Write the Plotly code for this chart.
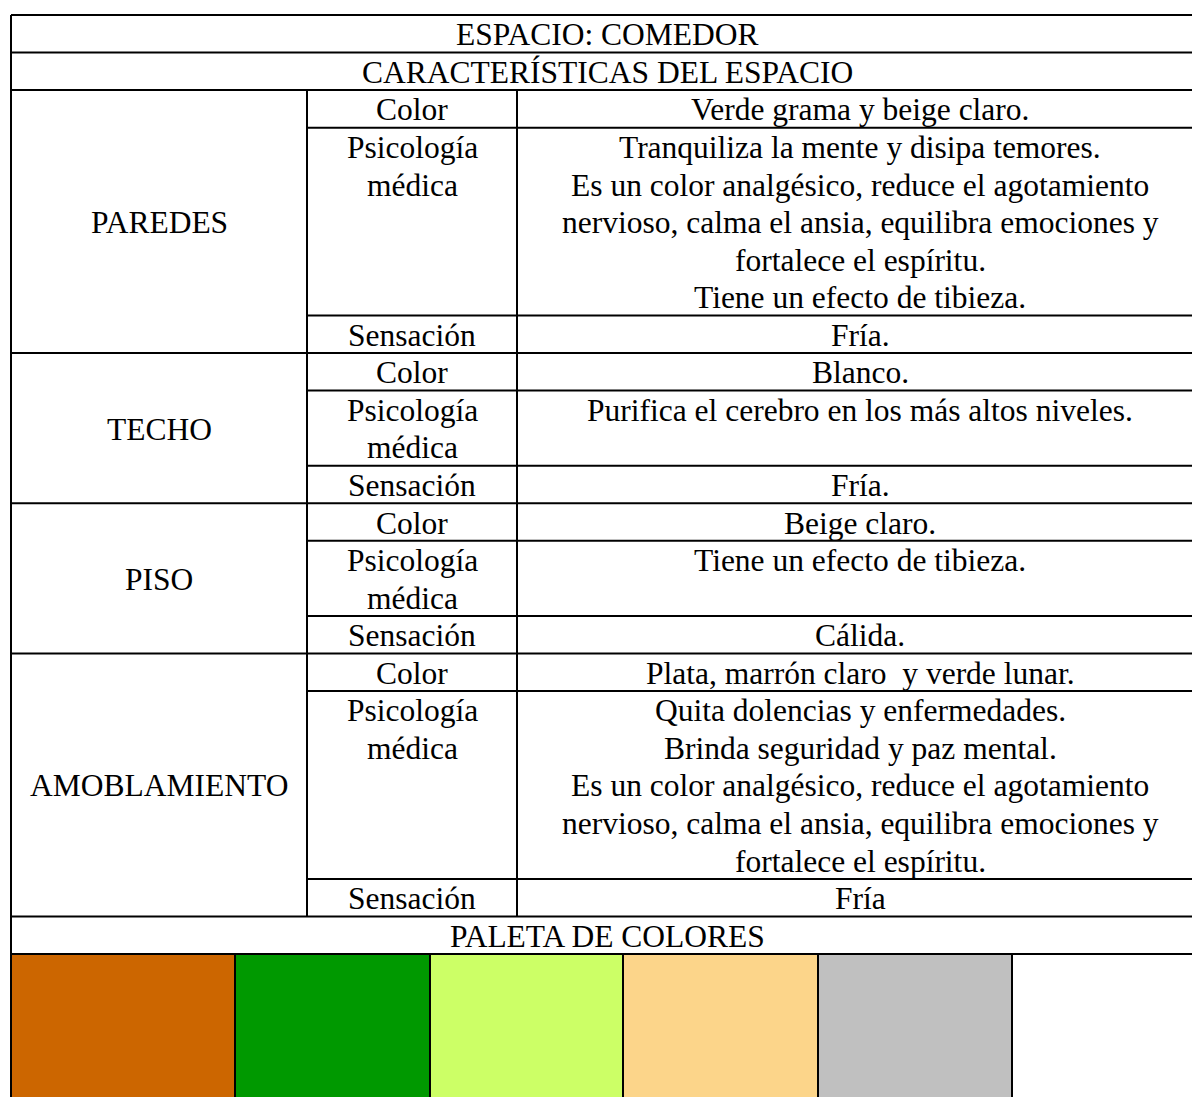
import plotly.graph_objects as go

# ---------------- data ----------------
title_text = "ESPACIO: COMEDOR"
subtitle_text = "CARACTERÍSTICAS DEL ESPACIO"
sections = ["PAREDES", "TECHO", "PISO", "AMOBLAMIENTO"]
attr_color = ["Color"]
attr_psych = ["Psicología", "médica"]
attr_sens = ["Sensación"]
color_values = [
    "Verde grama y beige claro.",
    "Blanco.",
    "Beige claro.",
    "Plata, marrón claro \u00a0y verde lunar.",
]
psych_values = [
    ["Tranquiliza la mente y disipa temores.",
     "Es un color analgésico, reduce el agotamiento",
     "nervioso, calma el ansia, equilibra emociones y",
     "fortalece el espíritu.",
     "Tiene un efecto de tibieza."],
    ["Purifica el cerebro en los más altos niveles."],
    ["Tiene un efecto de tibieza."],
    ["Quita dolencias y enfermedades.",
     "Brinda seguridad y paz mental.",
     "Es un color analgésico, reduce el agotamiento",
     "nervioso, calma el ansia, equilibra emociones y",
     "fortalece el espíritu."],
]
sensation_values = ["Fría.", "Fría.", "Cálida.", "Fría"]
palette_title = "PALETA DE COLORES"
palette_colors = ["#CC6600", "#009900", "#CCFF66", "#FCD58A", "#C0C0C0", "#FFFFFF"]

# ---------------- layout constants ----------------
PAGE_W, PAGE_H = 1192, 1097
TOP = 15
LINE = 37.56
X0, X1, X2, XR = 11, 307, 517, 1203
PAL_X = [11, 235, 430, 623, 818, 1012, 1203]
FONT = dict(family="Liberation Serif, Times New Roman, serif", size=31.5, color="black")
LW = 2
TEXT_DY = 1.0

shapes = []
annotations = []


def hline(y, xa, xb):
    shapes.append(dict(type="line", xref="x", yref="y", x0=xa, x1=xb, y0=y, y1=y,
                       line=dict(color="black", width=LW)))


def vline(x, ya, yb):
    shapes.append(dict(type="line", xref="x", yref="y", x0=x, x1=x, y0=ya, y1=yb,
                       line=dict(color="black", width=LW)))


def text(x, y, s):
    annotations.append(dict(x=x, y=y + TEXT_DY, xref="x", yref="y", text=s, showarrow=False,
                            xanchor="center", yanchor="middle", font=FONT))


def lines_block(x, ytop, items):
    for i, s in enumerate(items):
        text(x, ytop + (i + 0.5) * LINE, s)


y = TOP
hline(y, X0, XR)
lines_block((X0 + XR) / 2, y, [title_text])
y += LINE
hline(y, X0, XR)
lines_block((X0 + XR) / 2, y, [subtitle_text])
y += LINE
hline(y, X0, XR)
body_top = y

c1 = (X0 + X1) / 2
c2 = (X1 + X2) / 2
c3 = (X2 + XR) / 2
for k, sec in enumerate(sections):
    sec_top = y
    lines_block(c2, y, attr_color)
    lines_block(c3, y, [color_values[k]])
    y += LINE
    hline(y, X1, XR)
    n = max(len(psych_values[k]), len(attr_psych))
    lines_block(c2, y, attr_psych)
    lines_block(c3, y, psych_values[k])
    y += n * LINE
    hline(y, X1, XR)
    lines_block(c2, y, attr_sens)
    lines_block(c3, y, [sensation_values[k]])
    y += LINE
    hline(y, X0, XR)
    text(c1, (sec_top + y) / 2, sec)

body_bottom = y
vline(X1, body_top, body_bottom)
vline(X2, body_top, body_bottom)

lines_block((X0 + XR) / 2, y, [palette_title])
y += LINE
hline(y, X0, XR)
pal_top = y

for i, col in enumerate(palette_colors):
    shapes.append(dict(type="rect", xref="x", yref="y", x0=PAL_X[i], x1=PAL_X[i + 1],
                       y0=pal_top, y1=PAGE_H + 10, fillcolor=col, line=dict(width=0), layer="below"))
for xv in PAL_X[1:-1]:
    vline(xv, pal_top, PAGE_H + 10)

vline(X0, TOP, PAGE_H + 10)
vline(XR, TOP, PAGE_H + 10)

fig = go.Figure()
fig.add_trace(go.Scatter(x=[0, PAGE_W], y=[0, PAGE_H], mode="markers", marker=dict(opacity=0),
                         hoverinfo="skip", showlegend=False))
fig.update_layout(
    width=PAGE_W, height=PAGE_H, margin=dict(l=0, r=0, t=0, b=0),
    paper_bgcolor="white", plot_bgcolor="white",
    xaxis=dict(range=[0, PAGE_W], visible=False, fixedrange=True),
    yaxis=dict(range=[PAGE_H, 0], visible=False, fixedrange=True),
    shapes=shapes, annotations=annotations, showlegend=False,
)
fig.write_html(
    "out.html",
    config={"displayModeBar": False},
    post_script="document.body.style.margin='0';document.body.style.overflow='hidden';",
)
